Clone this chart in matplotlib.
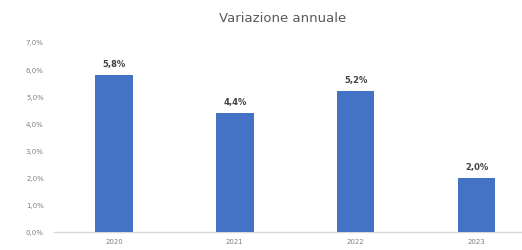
import matplotlib
matplotlib.use("Agg")
import matplotlib.pyplot as plt
from matplotlib.ticker import FuncFormatter

years = ["2020", "2021", "2022", "2023"]
values = [5.8, 4.4, 5.2, 2.0]
yticks = [0, 1, 2, 3, 4, 5, 6, 7]

W, H = 522, 251
fig = plt.figure(figsize=(W / 100, H / 100), dpi=100)
left, right = 53.5, 537
bottom, top = 18, 208
ax = fig.add_axes([left / W, bottom / H, (right - left) / W, (top - bottom) / H])

x = range(len(years))
bars = ax.bar(x, values, width=0.31, color="#4472C4", zorder=3)
for xi, v in zip(x, values):
    ax.text(xi, v + 0.25, f"{v:.1f}%".replace(".", ","), ha="center", va="bottom",
            fontsize=6, fontweight="bold", color="#404040")

ax.set_xlim(-0.5, len(years) - 0.5)
ax.set_ylim(0, 7)
ax.set_yticks(yticks)
ax.yaxis.set_major_formatter(FuncFormatter(lambda v, p: f"{v:.1f}%".replace(".", ",")))
ax.set_xticks(list(x))
ax.set_xticklabels(years)
ax.tick_params(axis="both", length=0, labelsize=5, labelcolor="#808080")
ax.tick_params(axis="y", pad=7)
ax.tick_params(axis="x", pad=4)
for s in ["top", "right", "left"]:
    ax.spines[s].set_visible(False)
ax.spines["bottom"].set_color("#D9D9D9")
ax.spines["bottom"].set_linewidth(1)

fig.text(283 / W, 1 - 18 / H, "Variazione annuale", ha="center", va="center",
         fontsize=9.5, color="#595959")

fig.savefig("out.png", dpi=100)
